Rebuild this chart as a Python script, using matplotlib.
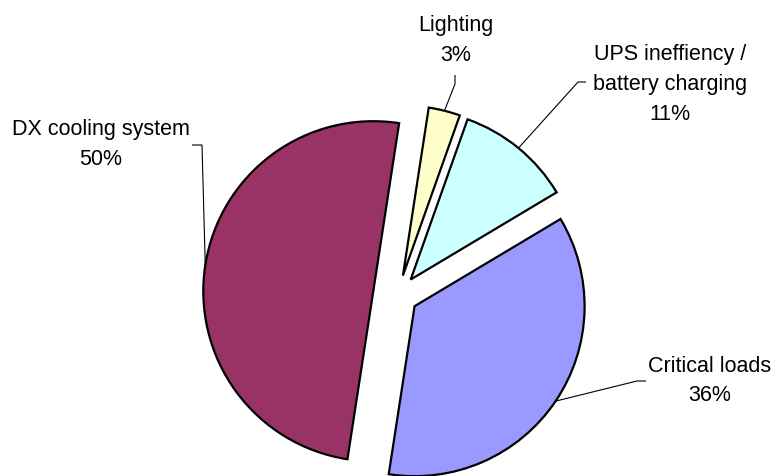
import numpy as np
import matplotlib
matplotlib.use("Agg")
import matplotlib.pyplot as plt

# ---- data ----
categories = ["Lighting", "UPS ineffiency /\nbattery charging", "Critical loads", "DX cooling system"]
shares = [3, 11, 36, 50]
colors = ["#FFFFCC", "#CCFFFF", "#9999FF", "#993366"]

plt.rcParams['font.family'] = ['Liberation Sans', 'DejaVu Sans']

W, H = 773, 476
fig = plt.figure(figsize=(W / 100, H / 100), dpi=100)
ax = fig.add_axes([0, 0, 1, 1])

radius = 170
center = (398, H - 295)
explode = [20, 20, 20, 25]
wedges, _ = ax.pie(shares, colors=colors, startangle=81.25, counterclock=False,
                   radius=radius, center=center, explode=explode,
                   wedgeprops=dict(edgecolor="black", linewidth=1.6),
                   normalize=True)

ax.set_xlim(0, W)
ax.set_ylim(0, H)
ax.set_aspect('equal', adjustable='box')
ax.axis('off')

# label layout (image coords: text top-center, elbow, end)
label_layout = [
    dict(text=(456, 15.5), elbow=(455, 84), end=(455, 75)),
    dict(text=(670, 44), elbow=(578, 82), end=(586, 82)),
    dict(text=(710, 355.5), elbow=(637, 381), end=(646, 381)),
    dict(text=(101, 119.5), elbow=(202, 145), end=(192, 145)),
]

for w, cat, val, lay in zip(wedges, categories, shares, label_layout):
    mid = np.deg2rad((w.theta1 + w.theta2) / 2)
    cx, cy = w.center
    ax_pt = (cx + w.r * np.cos(mid), cy + w.r * np.sin(mid))
    ex, ey = lay['elbow']
    nx, ny = lay['end']
    ax.plot([ax_pt[0], ex, nx], [ax_pt[1], H - ey, H - ny], color="black", lw=0.8,
            solid_capstyle='butt', zorder=0)
    tx, ty = lay['text']
    ax.text(tx, H - ty, f"{cat}\n{val}%", ha='center', va='top', fontsize=15.5,
            linespacing=1.55, color="black")

fig.savefig("out.png", dpi=100)
